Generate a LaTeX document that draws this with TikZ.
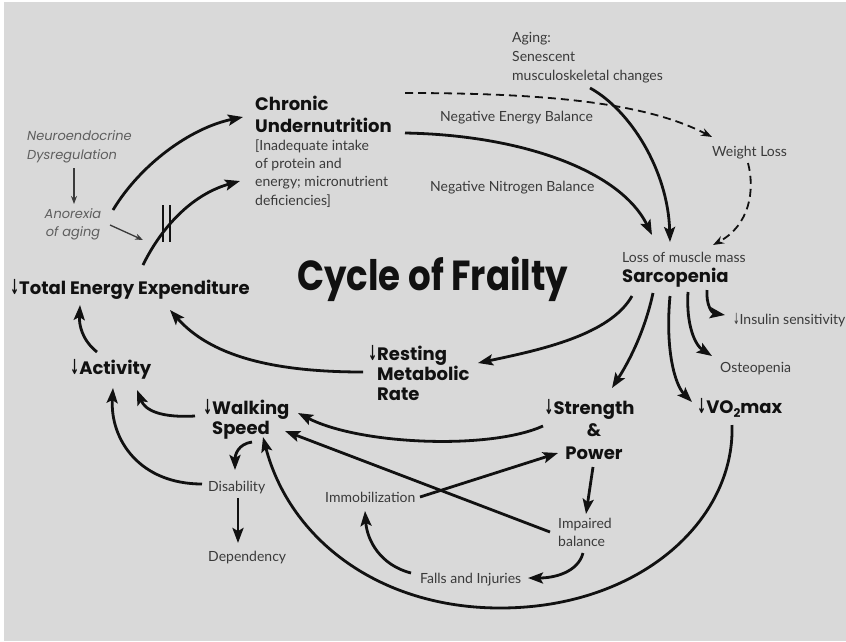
\documentclass[tikz,border=0pt]{standalone}
\usepackage{fontspec}
\setmainfont{Lato}
\newfontfamily\popf{Poppins}
\newfontfamily\djv{DejaVu Sans}
\usetikzlibrary{arrows.meta}
\definecolor{bgc}{HTML}{D9D9D9}
\definecolor{labc}{HTML}{3A3A3A}
\definecolor{itc}{HTML}{5E5E5E}
\definecolor{inkc}{HTML}{111111}
\newcommand\dnar{\scalebox{0.55}[1.1]{\djv ↓}}
\newcommand\dnarb{\scalebox{0.6}[1.15]{\djv\bfseries ↓}}
\tikzset{
  bl/.style={font=\popf\bfseries\fontsize{18}{22}\selectfont, text=inkc, inner sep=0pt, align=left, anchor=base west},
  sm/.style={font=\fontsize{14}{18}\selectfont, text=labc, inner sep=0pt, align=left, anchor=base west},
  itl/.style={font=\popf\itshape\fontsize{13}{19}\selectfont, text=itc, inner sep=0pt, align=left, anchor=base west},
  conn/.style={line width=2.8pt, draw=inkc, -{Stealth[length=15pt,width=11pt,inset=3pt]}},
  thinc/.style={line width=1.3pt, draw=labc, -{Stealth[length=8pt,width=6pt]}},
  dashc/.style={line width=1.8pt, draw=inkc, dash pattern=on 8pt off 5pt, -{Stealth[length=11pt,width=8pt]}},
}
\begin{document}
\begin{tikzpicture}[x=1pt,y=-1pt]
\useasboundingbox (0,0) rectangle (846,641);
\fill[white] (0,0) rectangle (846,641);
\fill[bgc] (4,2) rectangle (846,641);

% nodes (multi-line nodes are anchored at the baseline of their last line)
\node[bl] (chron) at (255,132) {Chronic\\Undernutrition};
\node[sm, font=\fontsize{14}{18.3}\selectfont] (chrondet) at (255,205) {[Inadequate intake\\of protein and\\energy; micronutrient\\deficiencies]};
\node[sm] (neb) at (440,121) {Negative Energy Balance};
\node[sm] (nnb) at (430,191) {Negative Nitrogen Balance};
\node[sm, font=\fontsize{14}{19}\selectfont] (aging) at (512,80) {Aging:\\Senescent\\musculoskeletal changes};
\node[sm] (wl) at (712,156) {Weight Loss};
\node[sm] (lmm) at (622,262) {Loss of muscle mass};
\node[bl] (sarc) at (622,282) {Sarcopenia};
\node[sm] (ins) at (733,324) {\dnar Insulin sensitivity};
\node[sm] (ost) at (720,372) {Osteopenia};
\node[bl] (vo2) at (697,413) {\dnarb VO\raisebox{-0.25em}{\fontsize{12}{12}\selectfont 2}max};
\node[bl, align=center, anchor=base, font=\popf\bfseries\fontsize{18}{22.5}\selectfont] (str) at (594,459) {\llap{\dnarb}Strength\\\&\\Power};
\node[bl, font=\popf\bfseries\fontsize{18}{20}\selectfont] (rmr) at (377,400) {\llap{\dnarb}Resting\\Metabolic\\Rate};
\node[sm] (imm) at (325,502) {Immobilization};
\node[sm] (imp) at (558,546) {Impaired\\balance};
\node[sm] (falls) at (420,583) {Falls and Injuries};
\node[sm] (dep) at (208,561) {Dependency};
\node[sm] (dis) at (208,491) {Disability};
\node[bl, font=\popf\bfseries\fontsize{18}{20}\selectfont] (ws) at (212,434) {\llap{\dnarb}Walking\\Speed};
\node[bl] (act) at (70,374) {\dnarb Activity};
\node[bl] (tee) at (10,294) {\dnarb Total Energy Expenditure};
\node[itl] (neuro) at (27,159) {Neuroendocrine\\Dysregulation};
\node[itl, align=center, anchor=base, font=\popf\itshape\fontsize{13}{18}\selectfont] (anor) at (73,236) {Anorexia\\of aging};
\node[bl, font=\popf\bfseries\fontsize{40}{40}\selectfont] (title) at (297,290) {\scalebox{0.89}[1.05]{Cycle of Frailty}};

% connectors
\draw[conn] ([shift={(40,-26)}]anor.base) .. controls (140,165) and (190,128) .. ([shift={(-12,-15)}]chron.base west);
\draw[thinc] ([shift={(47,9)}]neuro.base west) -- ([shift={(1,-32)}]anor.base);
\draw[thinc] ([shift={(37,-11)}]anor.base) -- ([shift={(133,-54)}]tee.base west);
\draw[conn] ([shift={(133,-29)}]tee.base west) .. controls (160,230) and (190,195) .. ([shift={(-15,-24)}]chrondet.base west);
\draw[line width=1.5pt, draw=inkc] ([shift={(153,-89)}]tee.base west) -- ++(0,37);
\draw[line width=1.5pt, draw=inkc] ([shift={(160,-89)}]tee.base west) -- ++(0,37);
\draw[conn] ([shift={(150,1)}]chron.base west) .. controls (520,135) and (620,170) .. ([shift={(30,-47)}]sarc.base west);
\draw[conn] ([shift={(78,8)}]aging.base west) .. controls (630,110) and (668,170) .. ([shift={(48,-40)}]sarc.base west);
\draw[dashc] ([shift={(150,-39)}]chron.base west) .. controls (560,93) and (650,105) .. ([shift={(0,-19)}]wl.base west);
\draw[dashc] ([shift={(36,7)}]wl.base west) .. controls (755,190) and (750,225) .. ([shift={(91,-37)}]sarc.base west);
\draw[conn] ([shift={(10,14)}]sarc.base west) .. controls (610,335) and (540,350) .. ([shift={(101,-37)}]rmr.base west);
\draw[conn] ([shift={(31,11)}]sarc.base west) .. controls (645,330) and (630,360) .. ([shift={(18,-71)}]str.base);
\draw[conn] ([shift={(48,14)}]sarc.base west) .. controls (665,350) and (675,385) .. ([shift={(-5,-11)}]vo2.base west);
\draw[conn] ([shift={(66,10)}]sarc.base west) .. controls (686,325) and (695,345) .. ([shift={(-8,-16)}]ost.base west);
\draw[conn] ([shift={(85,8)}]sarc.base west) .. controls (706,305) and (712,313) .. ([shift={(-8,-9)}]ins.base west);
\draw[conn] ([shift={(-14,-28)}]rmr.base west) .. controls (270,372) and (210,355) .. ([shift={(160,16)}]tee.base west);
\draw[conn] ([shift={(27,-22)}]act.base west) .. controls (82,340) and (79,325) .. ([shift={(70,11)}]tee.base west);
\draw[conn] ([shift={(-17,-18)}]ws.base west) .. controls (160,418) and (145,410) .. ([shift={(67,16)}]act.base west);
\draw[conn] ([shift={(-6,-7)}]dis.base west) .. controls (140,484) and (110,440) .. ([shift={(43,14)}]act.base west);
\draw[conn] ([shift={(40,8)}]ws.base west) .. controls (238,444) and (235,455) .. ([shift={(27,-21)}]dis.base west);
\draw[conn] ([shift={(30,7)}]dis.base west) -- ([shift={(30,-18)}]dep.base west);
\draw[conn] ([shift={(-51,-33)}]str.base) .. controls (490,450) and (360,445) .. ([shift={(86,-21)}]ws.base west);
\draw[conn] ([shift={(-8,-14)}]imp.base west) -- ([shift={(73,-3)}]ws.base west);
\draw[conn] ([shift={(95,-5)}]imm.base west) -- ([shift={(-36,-6)}]str.base);
\draw[conn] ([shift={(-1,8)}]str.base) -- ([shift={(28,-32)}]imp.base west);
\draw[conn] ([shift={(25,7)}]imp.base west) .. controls (578,572) and (555,578) .. ([shift={(108,-5)}]falls.base west);
\draw[conn] ([shift={(-9,-10)}]falls.base west) .. controls (380,565) and (367,540) .. ([shift={(40,9)}]imm.base west);
\draw[conn] ([shift={(35,12)}]vo2.base west) .. controls (735,520) and (640,608) .. (500,608) .. controls (380,608) and (290,540) .. ([shift={(51,3)}]ws.base west);
\end{tikzpicture}
\end{document}
